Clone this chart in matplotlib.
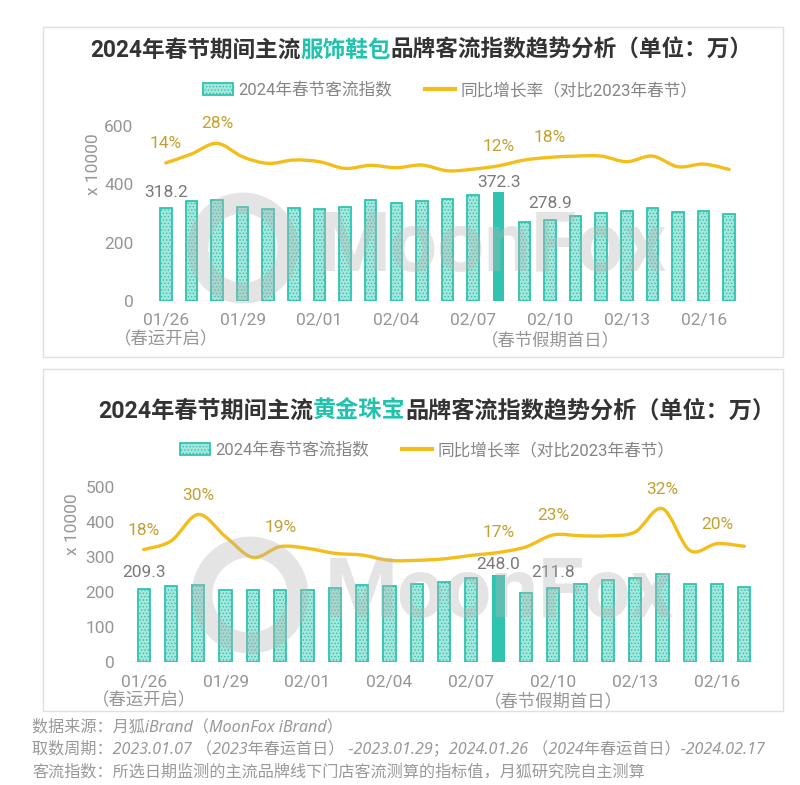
import matplotlib
matplotlib.use("Agg")
import matplotlib.pyplot as plt
import numpy as np
from matplotlib.path import Path
from matplotlib.patches import PathPatch, Patch, Rectangle, Circle
from matplotlib.lines import Line2D

plt.rcParams['font.family'] = ['Roboto', 'Noto Sans CJK SC', 'DejaVu Sans']
plt.rcParams['hatch.linewidth'] = 0.6

# ---- data ----
dates = ['01/26', '01/27', '01/28', '01/29', '01/30', '01/31', '02/01', '02/02',
         '02/03', '02/04', '02/05', '02/06', '02/07', '02/08', '02/09', '02/10',
         '02/11', '02/12', '02/13', '02/14', '02/15', '02/16', '02/17']
tick_idx = [0, 3, 6, 9, 12, 15, 18, 21]
tick_notes = {0: '（春运开启）', 15: '（春节假期首日）'}

fashion_index = [318.2, 343, 345, 321, 316, 318, 316, 323, 345, 336, 344, 350,
                 363, 372.3, 272, 278.9, 291, 303, 308, 320, 306, 309, 300]
fashion_growth = [14, 20.4, 28, 18.4, 13.7, 16.1, 14.9, 10.1, 12.3, 10.6, 12.5, 8.4,
                  9.6, 12, 16.1, 18, 18.9, 18.9, 14.9, 18.9, 11.3, 13.2, 9.4]
fashion_bar_labels = [0, 13, 15]
fashion_pct_labels = [0, 2, 13, 15]

jewelry_index = [209.3, 217, 221, 206, 206, 206, 206, 212, 219, 216, 222, 229,
                 239, 248.0, 196, 211.8, 222, 233, 241, 252, 224, 222, 215]
jewelry_growth = [18, 20.9, 30, 22.4, 15.3, 19, 18.4, 16.7, 16.1, 14.3, 14.3, 14.8,
                  16.0, 17, 18.9, 23, 22.7, 22.7, 24.0, 32, 17.7, 20, 19.1]
jewelry_bar_labels = [0, 13, 15]
jewelry_pct_labels = [0, 2, 5, 13, 15, 19, 21]

highlight = 13

TEAL = '#2ec4b0'
TEAL_LIGHT = '#a6e6dc'
GOLD = '#f4be1a'
GOLD_TXT = '#c4a030'
GRAY = '#969696'

W, H = 800, 785
fig = plt.figure(figsize=(W / 100, H / 100), dpi=100)


def fx(px):
    return px / W


def fy(py):
    return 1 - py / H


def smooth_path(x, y):
    # catmull-rom style bezier through the points
    x = np.asarray(x, float)
    y = np.asarray(y, float)
    n = len(x)
    verts = [(x[0], y[0])]
    codes = [Path.MOVETO]
    for i in range(n - 1):
        p0 = max(i - 1, 0)
        p3 = min(i + 2, n - 1)
        c1 = (x[i] + (x[i + 1] - x[p0]) / 6, y[i] + (y[i + 1] - y[p0]) / 6)
        c2 = (x[i + 1] - (x[p3] - x[i]) / 6, y[i + 1] - (y[p3] - y[i]) / 6)
        verts += [c1, c2, (x[i + 1], y[i + 1])]
        codes += [Path.CURVE4] * 3
    return Path(verts, codes)


def panel(box, rect, values, growth, ymax, ystep, glim, bar_lab, pct_lab,
          title_x, title_y, title_size, title_parts, legend_xy, ylabel_xy, ypad, mark):
    # panel frame
    fig.add_artist(Rectangle((fx(box[0]), fy(box[3])), fx(box[2] - box[0]),
                             (box[3] - box[1]) / H, transform=fig.transFigure,
                             fill=False, edgecolor='#e0e0e0', lw=1))
    ax = fig.add_axes(rect)
    x = np.arange(len(values))
    face = [TEAL if i == highlight else TEAL_LIGHT for i in x]
    bars = ax.bar(x, values, width=0.45, color=face, edgecolor=TEAL, linewidth=1.3,
                  hatch='.....', zorder=2)
    bars[highlight].set_hatch(None)
    bars[highlight].set_linewidth(0)
    ax.set_xlim(-0.5, len(values) - 0.5)
    ax.set_ylim(0, ymax)
    ax.set_yticks(np.arange(0, ymax + 1, ystep))
    ax.set_xticks(tick_idx)
    ax.set_xticklabels([dates[i] + ('\n' + tick_notes[i] if i in tick_notes else '')
                        for i in tick_idx])
    ax.tick_params(axis='both', length=0, labelsize=12.5, labelcolor=GRAY)
    ax.tick_params(axis='x', pad=9)
    ax.tick_params(axis='y', pad=ypad)
    for s in ax.spines.values():
        s.set_visible(False)
    ax.axhline(0, color='#e3e3e3', lw=1, zorder=1)
    ax.set_ylabel('x 10000', fontsize=12.5, color=GRAY)
    ax.yaxis.set_label_coords(*ylabel_xy)
    for i in bar_lab:
        off = 2 if i == highlight else 6
        ax.annotate(f'{values[i]:.1f}', (i, values[i]), xytext=(0, off),
                    textcoords='offset points', ha='center', va='bottom',
                    fontsize=12.5, color='#7a7a7a', zorder=5)

    ax2 = ax.twinx()
    ax2.set_ylim(*glim)
    ax2.axis('off')
    ax2.add_patch(PathPatch(smooth_path(x, growth), fill=False, edgecolor=GOLD,
                            lw=2.4, capstyle='round', joinstyle='round', zorder=3))
    for i in pct_lab:
        ax2.annotate(f'{growth[i]:.0f}%', (i, growth[i]), xytext=(0, 14),
                     textcoords='offset points', ha='center', va='center',
                     fontsize=12.5, color=GOLD_TXT)

    # watermark
    fig.add_artist(Circle((mark[0] / 100, (H - mark[1]) / 100), mark[2] / 100,
                          transform=fig.dpi_scale_trans, fill=False,
                          edgecolor='#b5b5b5', lw=15, alpha=0.36, zorder=4))
    fig.text(fx(mark[3]), fy(mark[1]), 'MoonFox', fontsize=60,
             weight='bold', color='#b5b5b5', alpha=0.36, va='center', ha='left',
             family=['Roboto', 'DejaVu Sans'], zorder=4)

    # title in pieces
    t = fig.text(fx(title_x), fy(title_y), title_parts[0][0], fontsize=title_size,
                 weight='bold', color=title_parts[0][1], va='center')
    for s, c in title_parts[1:]:
        t = ax.annotate(s, xy=(1, 0), xycoords=t, va='bottom', ha='left',
                        fontsize=title_size, weight='bold', color=c,
                        annotation_clip=False)

    handles = [Patch(facecolor=TEAL_LIGHT, edgecolor=TEAL, hatch='.....', lw=1.3),
               Line2D([0], [0], color=GOLD, lw=3)]
    fig.legend(handles, ['2024年春节客流指数', '同比增长率（对比2023年春节）'],
               loc='center', bbox_to_anchor=(fx(legend_xy[0]), fy(legend_xy[1])),
               ncol=2, frameon=False, fontsize=12, labelcolor='#858585',
               handlelength=1.8, handletextpad=0.3, columnspacing=2.0)
    return ax


panel((43, 27, 783, 357), [fx(153), fy(301), fx(742) - fx(153), 175 / H],
      fashion_index, fashion_growth, 600, 200, (-84.6, 40.4),
      fashion_bar_labels, fashion_pct_labels, 90, 50, 16.3,
      [('2024年春节期间主流', '#333333'), ('服饰鞋包', '#22c3ae'),
       ('品牌客流指数趋势分析（单位：万）', '#333333')],
      (450, 90), (-0.088, 0.78), 14, (243, 248, 45, 318))

panel((43, 369, 783, 711), [fx(130), fy(662), fx(758) - fx(130), 175 / H],
      jewelry_index, jewelry_growth, 500, 100, (-20.5, 39.4),
      jewelry_bar_labels, jewelry_pct_labels, 98, 411, 16.7,
      [('2024年春节期间主流', '#333333'), ('黄金珠宝', '#22c3ae'),
       ('品牌客流指数趋势分析（单位：万）', '#333333')],
      (427, 450), (-0.080, 0.787), 11, (250, 595, 48, 325))

footer = ['数据来源：月狐iBrand（MoonFox iBrand）',
          '取数周期：2023.01.07 （2023年春运首日） -2023.01.29；2024.01.26 （2024年春运首日）-2024.02.17',
          '客流指数：所选日期监测的主流品牌线下门店客流测算的指标值，月狐研究院自主测算']
for k, line in enumerate(footer):
    fig.text(fx(32), fy(727 + 22.5 * k), line, fontsize=11.6, color='#999999',
             style='italic', va='center', family=['Noto Sans', 'Noto Sans CJK SC'])

fig.savefig('out.png', dpi=100)
